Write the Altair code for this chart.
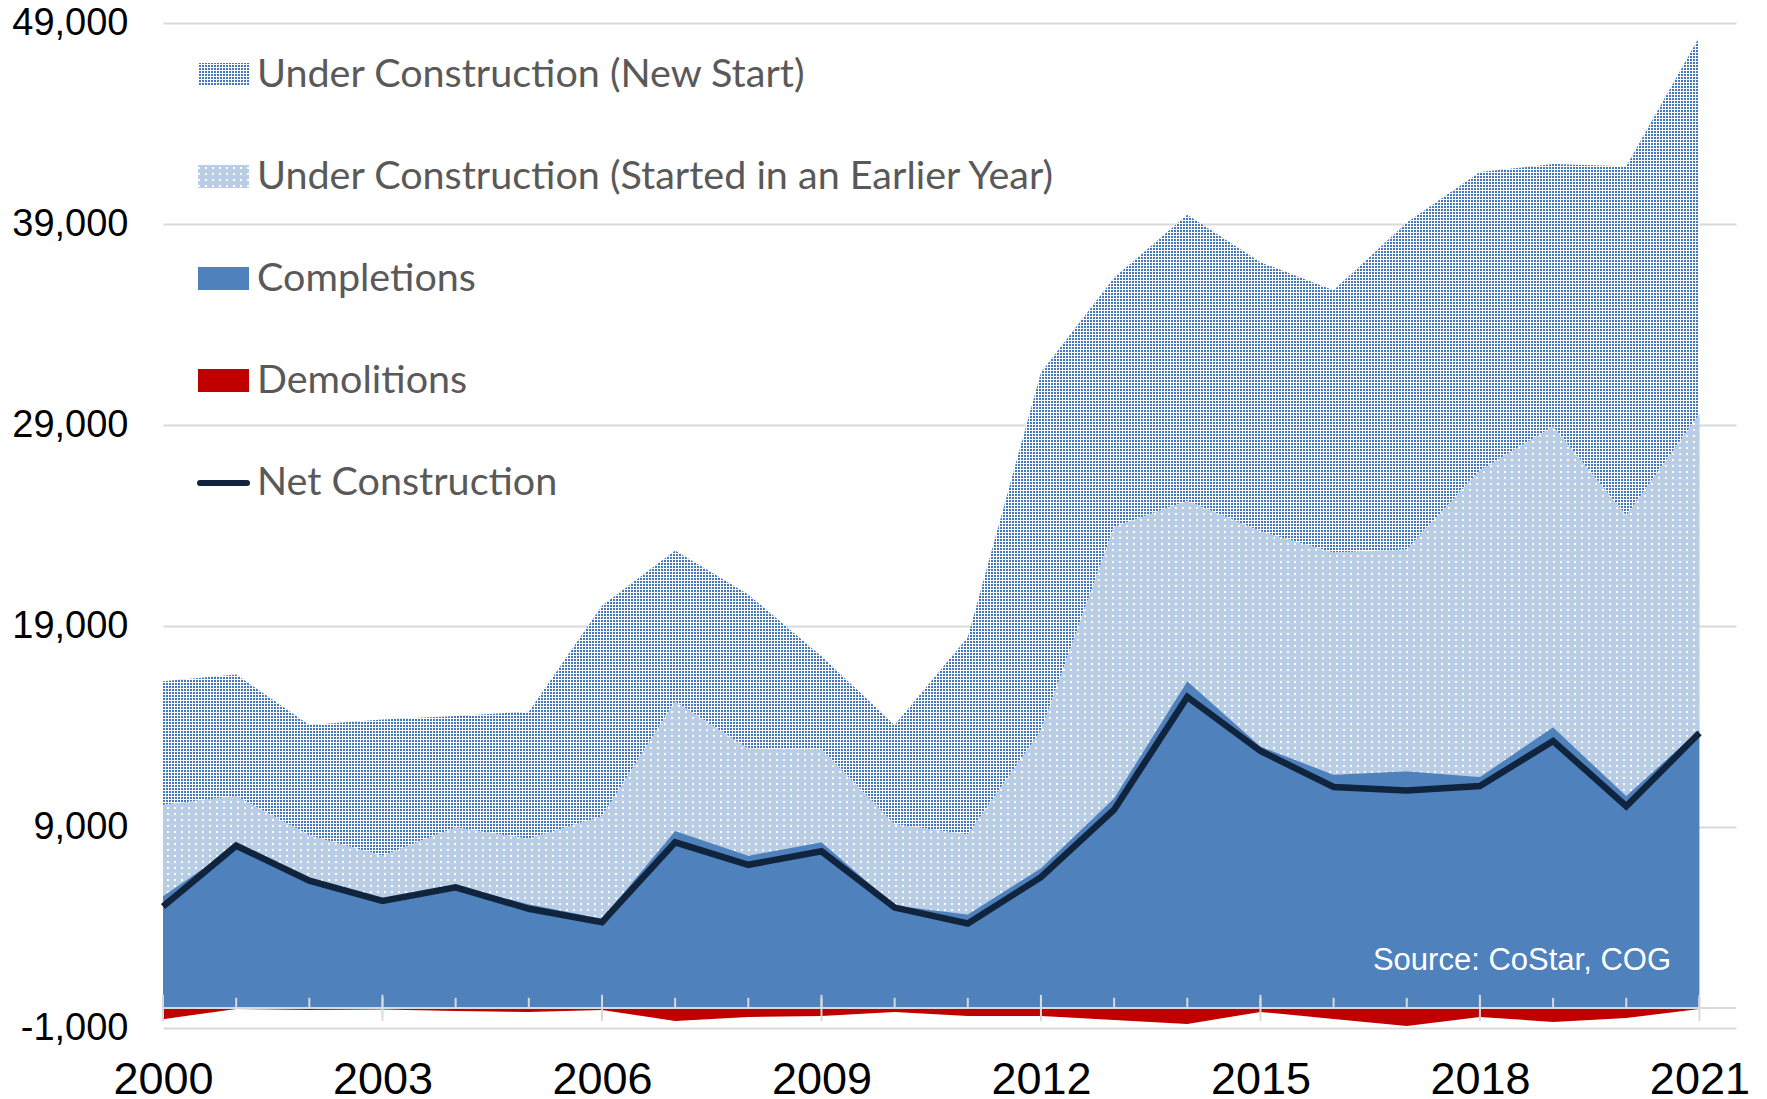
import math
import altair as alt
import pandas as pd

# ---------------- data ----------------
years = list(range(2000, 2022))
completions = [5550, 8070, 6450, 5440, 6050, 5160, 4430, 8800, 7570, 8240, 5100,
               4650, 6950, 10430, 16250, 13000, 11600, 11770, 11490, 13960, 10540, 13840]
uc_earlier = [4540, 2470, 2130, 2130, 2920, 3250, 5100, 6450, 5320, 4600, 4040,
              3980, 6840, 13500, 8970, 10710, 11040, 11040, 15250, 14960, 13950, 15700]
uc_new = [6160, 6050, 5490, 6780, 5550, 6330, 10480, 7510, 7680, 4650, 4930,
          9810, 17820, 12390, 14240, 13390, 13060, 16260, 14850, 13060, 17380, 18780]
demolitions = [-560, -50, -100, -80, -150, -200, -100, -650, -450, -400, -200,
               -400, -400, -600, -800, -200, -550, -900, -450, -700, -500, -50]
net_construction = [5040, 8070, 6330, 5320, 6000, 4930, 4260, 8240, 7120, 7790, 4990,
                    4200, 6500, 9860, 15470, 12780, 10990, 10820, 11040, 13280, 10030, 13680]

x_label_years = [2000, 2003, 2006, 2009, 2012, 2015, 2018, 2021]
y_tick_values = [-1000, 9000, 19000, 29000, 39000, 49000]

legend_labels = [
    "Under Construction (New Start)",
    "Under Construction (Started in an Earlier Year)",
    "Completions",
    "Demolitions",
    "Net Construction",
]
source_text = "Source: CoStar, COG"

df = pd.DataFrame({
    "year": years,
    "completions": completions,
    "uc_earlier": uc_earlier,
    "uc_new": uc_new,
    "demolitions": demolitions,
    "net": net_construction,
})

# ---------------- layout / style ----------------
PLOT_W, PLOT_H = 1573, 1005
X_MIN, X_MAX = 2000, 2021.5
Y_MIN, Y_MAX = -1000, 49000

BLUE = "#4f81bd"
LIGHT = "#b9cde5"
DOT_BLUE = "#4677bd"
RED = "#c00000"
NAVY = "#10243e"
GRID = "#d9d9d9"
WHITE = "#ffffff"
CLEAR = "rgba(255,255,255,0)"


def ypx(v):
    return (Y_MAX - v) / (Y_MAX - Y_MIN) * PLOT_H


def xpx(v):
    return (v - X_MIN) / (X_MAX - X_MIN) * PLOT_W


def pattern(on, off, start, length, period, dot, along_x):
    """Hard-edged stripes aligned to whole pixels of the plot, expressed in
    bounding-box units of a mark that starts at `start` px and spans `length` px."""
    stops = [alt.GradientStop(offset=0, color=off)]
    k = math.floor(start / period)
    while k * period < start + length:
        a = min(max((k * period - start) / length, 0.0), 1.0)
        b = min(max((k * period + dot - start) / length, 0.0), 1.0)
        if b > a:
            a, b = round(a, 7), round(b, 7)
            stops += [alt.GradientStop(offset=a, color=off), alt.GradientStop(offset=a, color=on),
                      alt.GradientStop(offset=b, color=on), alt.GradientStop(offset=b, color=off)]
        k += 1
    stops.append(alt.GradientStop(offset=1, color=off))
    if along_x:
        return alt.LinearGradient(gradient="linear", stops=stops, x1=0, x2=1, y1=0, y2=0)
    return alt.LinearGradient(gradient="linear", stops=stops, x1=0, x2=0, y1=0, y2=1)


tops_e = [c + e for c, e in zip(completions, uc_earlier)]
tops_n = [t + n for t, n in zip(tops_e, uc_new)]
ax0, ax1 = xpx(min(years)), xpx(max(years))
new_y0, new_y1 = ypx(max(tops_n)), ypx(min(tops_e))
ear_y0, ear_y1 = ypx(max(tops_e)), ypx(min(completions))

NEW_PX, NEW_PY, NEW_DOT = 3, 3, 2
EAR_PX, EAR_PY, EAR_DOT = 7, 6, 2

new_fill_a = pattern(DOT_BLUE, WHITE, ax0, ax1 - ax0, NEW_PX, NEW_DOT, True)
new_fill_b = pattern(CLEAR, WHITE, new_y0, new_y1 - new_y0, NEW_PY, NEW_DOT, False)
ear_fill_a = pattern(WHITE, LIGHT, ax0 + 3, ax1 - ax0, EAR_PX, EAR_DOT, True)
ear_fill_b = pattern(CLEAR, LIGHT, ear_y0 + 2, ear_y1 - ear_y0, EAR_PY, EAR_DOT, False)

x_enc = alt.X(
    "year:Q",
    scale=alt.Scale(domain=[X_MIN, X_MAX], nice=False, zero=False),
    axis=alt.Axis(values=x_label_years, format="d", grid=False, domain=False, ticks=False,
                  labelFontSize=45, labelFont="Liberation Sans", labelColor="#000000",
                  labelPadding=29, labelFlush=False, labelOverlap=False, title=None),
)
y_scale = alt.Scale(domain=[Y_MIN, Y_MAX], nice=False, zero=False)
y_axis = alt.Axis(
    values=y_tick_values,
    labelExpr="datum.value < 0 ? '-' + format(-datum.value, ',d') : format(datum.value, ',d')",
    grid=True, gridColor=GRID, gridWidth=2,
    domain=False, ticks=False, labelFontSize=38, labelFont="Liberation Sans",
    labelColor="#000000", labelPadding=35, title=None)

base = alt.Chart(df).transform_calculate(
    top_c="datum.completions",
    top_e="datum.completions + datum.uc_earlier",
    top_n="datum.completions + datum.uc_earlier + datum.uc_new",
)

new_a = base.mark_area(fill=new_fill_a).encode(
    x=x_enc, y=alt.Y("top_n:Q", scale=y_scale, axis=y_axis), y2="top_e:Q")
new_b = base.mark_area(fill=new_fill_b).encode(x="year:Q", y="top_n:Q", y2="top_e:Q")
ear_a = base.mark_area(fill=ear_fill_a).encode(x="year:Q", y="top_e:Q", y2="top_c:Q")
ear_b = base.mark_area(fill=ear_fill_b).encode(x="year:Q", y="top_e:Q", y2="top_c:Q")
comp = base.mark_area(fill=BLUE).encode(x="year:Q", y="top_c:Q", y2=alt.datum(0))
demo = base.mark_area(fill=RED).encode(x="year:Q", y="demolitions:Q", y2=alt.datum(0))

zero_line = alt.Chart(pd.DataFrame({"z": [0]})).mark_rule(color=GRID, strokeWidth=2).encode(
    y=alt.datum(0), x=alt.datum(X_MIN), x2=alt.datum(X_MAX))
minor_ticks = alt.Chart(df).mark_rule(color=GRID, strokeWidth=2).encode(
    x="year:Q", y=alt.datum(0), y2=alt.datum(500))
major_ticks = alt.Chart(df).transform_filter("(datum.year - 2000) % 3 == 0").mark_rule(
    color=GRID, strokeWidth=2).encode(x="year:Q", y=alt.datum(-650), y2=alt.datum(650))

net_line = base.mark_line(color=NAVY, strokeWidth=6.5).encode(x="year:Q", y="net:Q")

source = alt.Chart(pd.DataFrame({"t": [source_text]})).mark_text(
    align="right", baseline="middle", fontSize=31, font="Liberation Sans", color=WHITE
).encode(x=alt.value(1508), y=alt.value(938), text="t:N")

# ---------------- manual legend ----------------
one = pd.DataFrame({"a": [0]})
ROWS = [52, 154, 256, 358, 460]
SW_X0, SW_X1, SW_HALF = 35, 86, 12
sw_w = SW_X1 - SW_X0


def swatch(fill, row):
    return alt.Chart(one).mark_rect(fill=fill).encode(
        x=alt.value(SW_X0), x2=alt.value(SW_X1),
        y=alt.value(row - SW_HALF), y2=alt.value(row + SW_HALF - 1))


def sw_pat(on, off, row, px, py, dot, along_x):
    if along_x:
        return pattern(on, off, SW_X0, sw_w, px, dot, True)
    return pattern(on, off, row - SW_HALF, 2 * SW_HALF - 1, py, dot, False)


legend_layers = [
    swatch(sw_pat(DOT_BLUE, WHITE, ROWS[0], NEW_PX, NEW_PY, NEW_DOT, True), ROWS[0]),
    swatch(sw_pat(CLEAR, WHITE, ROWS[0], NEW_PX, NEW_PY, NEW_DOT, False), ROWS[0]),
    swatch(sw_pat(WHITE, LIGHT, ROWS[1], EAR_PX, EAR_PY, EAR_DOT, True), ROWS[1]),
    swatch(sw_pat(CLEAR, LIGHT, ROWS[1], EAR_PX, EAR_PY, EAR_DOT, False), ROWS[1]),
    swatch(BLUE, ROWS[2]),
    swatch(RED, ROWS[3]),
    alt.Chart(one).mark_rule(color=NAVY, strokeWidth=6, strokeCap="round").encode(
        x=alt.value(SW_X0 + 2), x2=alt.value(SW_X1 - 2), y=alt.value(ROWS[4])),
]
for lab, row in zip(legend_labels, ROWS):
    legend_layers.append(
        alt.Chart(pd.DataFrame({"label": [lab]})).mark_text(
            align="left", baseline="middle", fontSize=39.5, font="Lato", color="#595959"
        ).encode(x=alt.value(94), y=alt.value(row), text="label:N")
    )

chart = alt.layer(
    new_a, new_b, ear_a, ear_b, comp, demo,
    zero_line, minor_ticks, major_ticks, net_line, source, *legend_layers
).properties(
    width=PLOT_W, height=PLOT_H,
    autosize=alt.AutoSizeParams(type="none"),
    padding={"left": 155, "top": 15, "right": 20, "bottom": 70},
    background="#ffffff",
).configure_view(stroke=None)

chart.save("out.html", embed_options={"renderer": "svg", "actions": False})
